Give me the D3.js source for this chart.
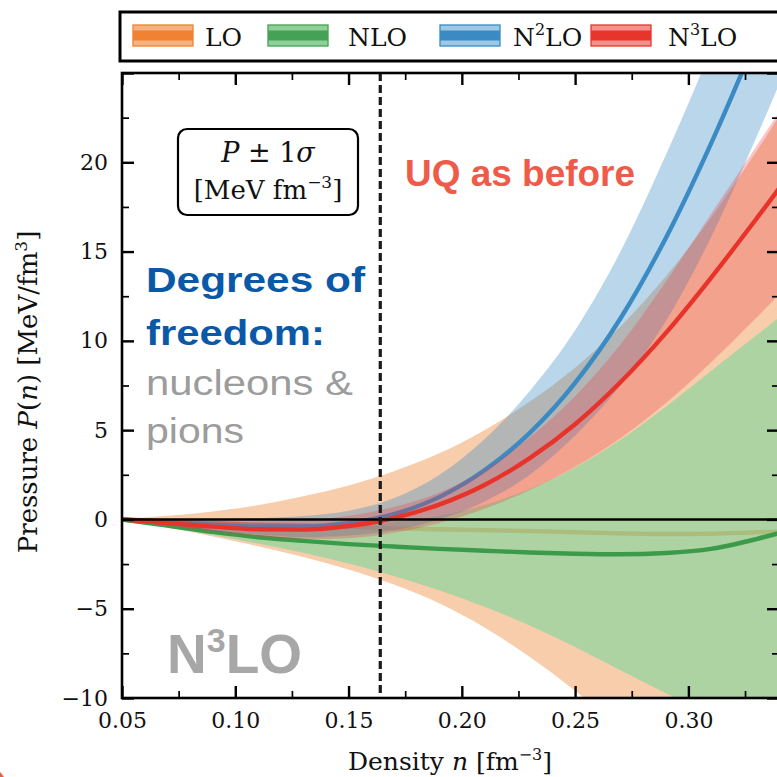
<!DOCTYPE html>
<html>
<head>
<meta charset="utf-8">
<script src="https://cdn.jsdelivr.net/npm/d3@7"></script>
<style>
html,body{margin:0;padding:0;background:#fff;}
svg{display:block;}
</style>
</head>
<body>
<script>
// density grid [fm^-3] and pressure values [MeV/fm^3]
const density = [0.05,0.07,0.09,0.11,0.13,0.15,0.17,0.19,0.21,0.23,0.25,0.27,0.29,0.31,0.33,0.35];

const loMid   = [0,-0.1,-0.2,-0.3,-0.35,-0.4,-0.5,-0.55,-0.6,-0.65,-0.72,-0.78,-0.82,-0.8,-0.72,-0.65];
const loHigh  = [0,0.2,0.45,0.8,1.3,1.9,2.7,3.7,5.0,6.6,8.5,10.8,13.6,16.9,20.6,24.6];
const loLow   = [0,-0.45,-0.95,-1.5,-2.1,-2.8,-3.65,-4.7,-6.05,-7.7,-9.6,-11.8,-14.4,-17.5,-21,-24.8];

const nloMid  = [0,-0.35,-0.7,-1.0,-1.2,-1.38,-1.52,-1.65,-1.75,-1.85,-1.92,-1.95,-1.88,-1.65,-1.1,-0.4];
const nloHigh = [0,-0.15,-0.3,-0.4,-0.4,-0.32,-0.14,0.21,0.81,1.71,2.91,4.46,6.31,8.31,10.31,12.26];
const nloLow  = [0,-0.42,-0.87,-1.35,-1.87,-2.47,-3.17,-3.97,-4.89,-5.94,-7.14,-8.44,-9.74,-11.04,-12.29,-13.49];

const n2Mid   = [0,-0.15,-0.3,-0.4,-0.4,-0.2,0.3,1.25,2.75,4.85,7.65,11.25,15.75,21.05,26.95,33.25];
const n2High  = [0,0,0.02,0.07,0.19,0.49,1.19,2.49,4.49,7.19,10.59,14.99,20.39,26.29,32.49,39.09];
const n2Low   = [0,-0.3,-0.6,-0.85,-1.0,-0.9,-0.6,0.0,1.0,2.5,4.7,7.5,11.1,15.8,21.4,27.4];

const n3Mid   = [0,-0.2,-0.4,-0.55,-0.57,-0.37,0.08,0.83,1.93,3.43,5.33,7.68,10.43,13.53,16.83,20.23];
const n3High  = [0,-0.05,-0.1,-0.12,-0.05,0.2,0.7,1.5,2.8,4.6,6.9,9.8,13.3,17.1,20.9,24.7];
const n3Low   = [0,-0.35,-0.68,-0.95,-1.1,-1.05,-0.75,-0.2,0.6,1.65,2.95,4.55,6.5,8.8,11.3,13.9];

const saturation = 0.164;

const xMajor = [0.05,0.10,0.15,0.20,0.25,0.30];
const xMinor = [0.075,0.125,0.175,0.225,0.275,0.325];
const yMajor = [-10,-5,0,5,10,15,20,25];
const yMinor = [-7.5,-2.5,2.5,7.5,12.5,17.5,22.5];

const W = 777, H = 777;
const serif = "'DejaVu Serif', serif";
const sans = "'Liberation Sans', Arial, sans-serif";

const svg = d3.select("body").append("svg")
              .attr("width", W)
              .attr("height", H)
              .attr("viewBox", [0, 0, W, H]);

const x = d3.scaleLinear().domain([0.05, 0.34]).range([122, 779]);
const y = d3.scaleLinear().domain([-10, 25]).range([698, 73]);

svg.append("defs").append("clipPath").attr("id","plotclip")
   .append("rect")
   .attr("x", x.range()[0]).attr("y", y.range()[1])
   .attr("width", x.range()[1]-x.range()[0])
   .attr("height", y.range()[0]-y.range()[1]);

const plot = svg.append("g").attr("clip-path","url(#plotclip)");

const area = (lo, hi) => d3.area()
      .x((d,i) => x(density[i]))
      .y0((d,i) => y(lo[i]))
      .y1((d,i) => y(hi[i]))
      .curve(d3.curveMonotoneX)(density);
const line = (v) => d3.line()
      .x((d,i) => x(density[i]))
      .y((d,i) => y(v[i]))
      .curve(d3.curveMonotoneX)(density);

// orders drawn one after another: band, then central line
const orders = [
  {lo: loLow,  hi: loHigh,  mid: loMid,  fill: "#f8cdab", op: 1,    stroke: "#f27f2c"},
  {lo: nloLow, hi: nloHigh, mid: nloMid, fill: "rgb(141,214,158)", op: 0.7, stroke: "#3b9b4b"},
  {lo: n2Low,  hi: n2High,  mid: n2Mid,  fill: "rgb(60,140,200)", op: 0.36, stroke: "#3a8ac3"},
  {lo: n3Low,  hi: n3High,  mid: n3Mid,  fill: "rgb(232,64,72)", op: 0.3, stroke: "#e8332a"}
];

orders.forEach(o => {
  plot.append("path").attr("d", area(o.lo, o.hi))
      .attr("fill", o.fill).attr("fill-opacity", o.op);
  plot.append("path").attr("d", line(o.mid))
      .attr("fill","none").attr("stroke", o.stroke)
      .attr("stroke-width", 4.4);
});

// zero line
plot.append("line")
    .attr("x1", x.range()[0]).attr("x2", x.range()[1])
    .attr("y1", y(0)).attr("y2", y(0))
    .attr("stroke","#000").attr("stroke-width",2.6);

// saturation density
plot.append("line")
    .attr("x1", x(saturation)).attr("x2", x(saturation))
    .attr("y1", y.range()[1]).attr("y2", y.range()[0])
    .attr("stroke","#1a1a1a").attr("stroke-width",3.2)
    .attr("stroke-dasharray","8,4");

// axes, ticks pointing inward on all sides
const styleAxis = (g, w) => {
  g.select(".domain").remove();
  g.selectAll(".tick line").attr("stroke","#000").attr("stroke-width", w);
  g.selectAll(".tick text").attr("fill","#111")
   .style("font-family", serif).style("font-size","22px");
};
const fmtY = d => d === 25 ? "" : d3.format("d")(d);

svg.append("g").attr("transform",`translate(0,${y(-10)})`)
   .call(d3.axisBottom(x).tickValues(xMajor).tickSize(-12).tickPadding(14).tickFormat(d3.format(".2f")))
   .call(g => styleAxis(g, 2.4));
svg.append("g").attr("transform",`translate(0,${y(-10)})`)
   .call(d3.axisBottom(x).tickValues(xMinor).tickSize(-7).tickFormat(""))
   .call(g => styleAxis(g, 1.7));
svg.append("g").attr("transform",`translate(0,${y(25)})`)
   .call(d3.axisTop(x).tickValues(xMajor).tickSize(-12).tickFormat(""))
   .call(g => styleAxis(g, 2.4));
svg.append("g").attr("transform",`translate(0,${y(25)})`)
   .call(d3.axisTop(x).tickValues(xMinor).tickSize(-7).tickFormat(""))
   .call(g => styleAxis(g, 1.7));
svg.append("g").attr("transform",`translate(${x(0.05)},0)`)
   .call(d3.axisLeft(y).tickValues(yMajor).tickSize(-12).tickPadding(14).tickFormat(fmtY))
   .call(g => styleAxis(g, 2.4));
svg.append("g").attr("transform",`translate(${x(0.05)},0)`)
   .call(d3.axisLeft(y).tickValues(yMinor).tickSize(-7).tickFormat(""))
   .call(g => styleAxis(g, 1.7));
svg.append("g").attr("transform",`translate(${x(0.34)},0)`)
   .call(d3.axisRight(y).tickValues(yMajor).tickSize(-12).tickFormat(""))
   .call(g => styleAxis(g, 2.4));
svg.append("g").attr("transform",`translate(${x(0.34)},0)`)
   .call(d3.axisRight(y).tickValues(yMinor).tickSize(-7).tickFormat(""))
   .call(g => styleAxis(g, 1.7));

svg.append("rect")
   .attr("x", x.range()[0]).attr("y", y.range()[1])
   .attr("width", x.range()[1]-x.range()[0])
   .attr("height", y.range()[0]-y.range()[1])
   .attr("fill","none").attr("stroke","#000").attr("stroke-width",2.6);

// axis titles
const xt = svg.append("text").attr("x", 450).attr("y", 770)
   .attr("text-anchor","middle")
   .style("font-family", serif).style("font-size","25px").attr("fill","#111");
xt.append("tspan").text("Density ");
xt.append("tspan").text("n").style("font-style","italic");
xt.append("tspan").text(" [fm");
xt.append("tspan").text("−3").style("font-size","16px").attr("dy",-10);
xt.append("tspan").text("]").attr("dy",10);

const yt = svg.append("text")
   .attr("transform","translate(37,392) rotate(-90)")
   .attr("text-anchor","middle")
   .style("font-family", serif).style("font-size","26px").attr("fill","#111");
yt.append("tspan").text("Pressure ");
yt.append("tspan").text("P").style("font-style","italic");
yt.append("tspan").text("(");
yt.append("tspan").text("n").style("font-style","italic");
yt.append("tspan").text(") [MeV/fm");
yt.append("tspan").text("3").style("font-size","17px").attr("dy",-10);
yt.append("tspan").text("]").attr("dy",10);

// legend
const legendItems = [
  {label: "LO",  sup: "",  light: "#f6b382", dark: "#f08232", px: 133, tx: 205},
  {label: "NLO", sup: "",  light: "#8fcf98", dark: "#45a155", px: 268, tx: 348},
  {label: "N",   sup: "2", light: "#9fc8e6", dark: "#3a8bc4", px: 440, tx: 513},
  {label: "N",   sup: "3", light: "#f3928d", dark: "#e8352c", px: 591, tx: 668}
];
svg.append("rect").attr("x",120).attr("y",12).attr("width",720).attr("height",49)
   .attr("fill","#fff").attr("stroke","#000").attr("stroke-width",3);
legendItems.forEach(d => {
  const g = svg.append("g");
  g.append("rect").attr("x", d.px).attr("y", 25).attr("width", 60).attr("height", 21)
   .attr("fill", d.light).attr("stroke", d.dark).attr("stroke-width", 1.3);
  g.append("rect").attr("x", d.px).attr("y", 30.5).attr("width", 60).attr("height", 10)
   .attr("fill", d.dark);
  const t = g.append("text").attr("x", d.tx).attr("y", 46)
   .style("font-family", serif).style("font-size","25px").attr("fill","#111");
  t.append("tspan").text(d.label);
  if (d.sup) {
    t.append("tspan").text(d.sup).style("font-size","16px").attr("dy",-11);
    t.append("tspan").text("LO").attr("dy",11);
  }
});

// info box
svg.append("rect").attr("x",178).attr("y",129).attr("width",180).attr("height",86)
   .attr("rx",9).attr("fill","#fff").attr("stroke","#000").attr("stroke-width",2.2);
const l1 = svg.append("text").attr("x",268).attr("y",162).attr("text-anchor","middle")
   .style("font-family", serif).style("font-size","27px").attr("fill","#111");
l1.append("tspan").text("P").style("font-style","italic");
l1.append("tspan").text(" ± 1");
l1.append("tspan").text("σ").style("font-style","italic");
const l2 = svg.append("text").attr("x",268).attr("y",199).attr("text-anchor","middle")
   .style("font-family", serif).style("font-size","26px").attr("fill","#111");
l2.append("tspan").text("[MeV fm");
l2.append("tspan").text("−3").style("font-size","17px").attr("dy",-11);
l2.append("tspan").text("]").attr("dy",11);

// annotations
const note = (txt, tx, ty, size, weight, color, len) =>
  svg.append("text").attr("x", tx).attr("y", ty).text(txt)
     .style("font-family", sans).style("font-size", size+"px")
     .style("font-weight", weight).attr("fill", color)
     .attr("textLength", len).attr("lengthAdjust","spacingAndGlyphs");

note("UQ as before", 405, 186, 36, "bold", "#ef5a49", 230);
note("Degrees of", 146, 292, 35, "bold", "#0a58a8", 219);
note("freedom:", 146, 345, 35, "bold", "#0a58a8", 179);
note("nucleons &", 146, 395, 35, "normal", "#9c9c9c", 207);
note("pions", 146, 443, 35, "normal", "#9c9c9c", 98);

const big = svg.append("text").attr("x",167).attr("y",673)
   .style("font-family", sans).style("font-size","55px")
   .style("font-weight","bold").attr("fill","#a7a7a7");
big.append("tspan").text("N");
big.append("tspan").text("3").style("font-size","34px").attr("dy",-21);
big.append("tspan").text("LO").attr("dy",21);

// slide decoration in the corner
svg.append("circle").attr("cx",-30).attr("cy",800).attr("r",41).attr("fill","#ef5a49");
</script>
</body>
</html>
